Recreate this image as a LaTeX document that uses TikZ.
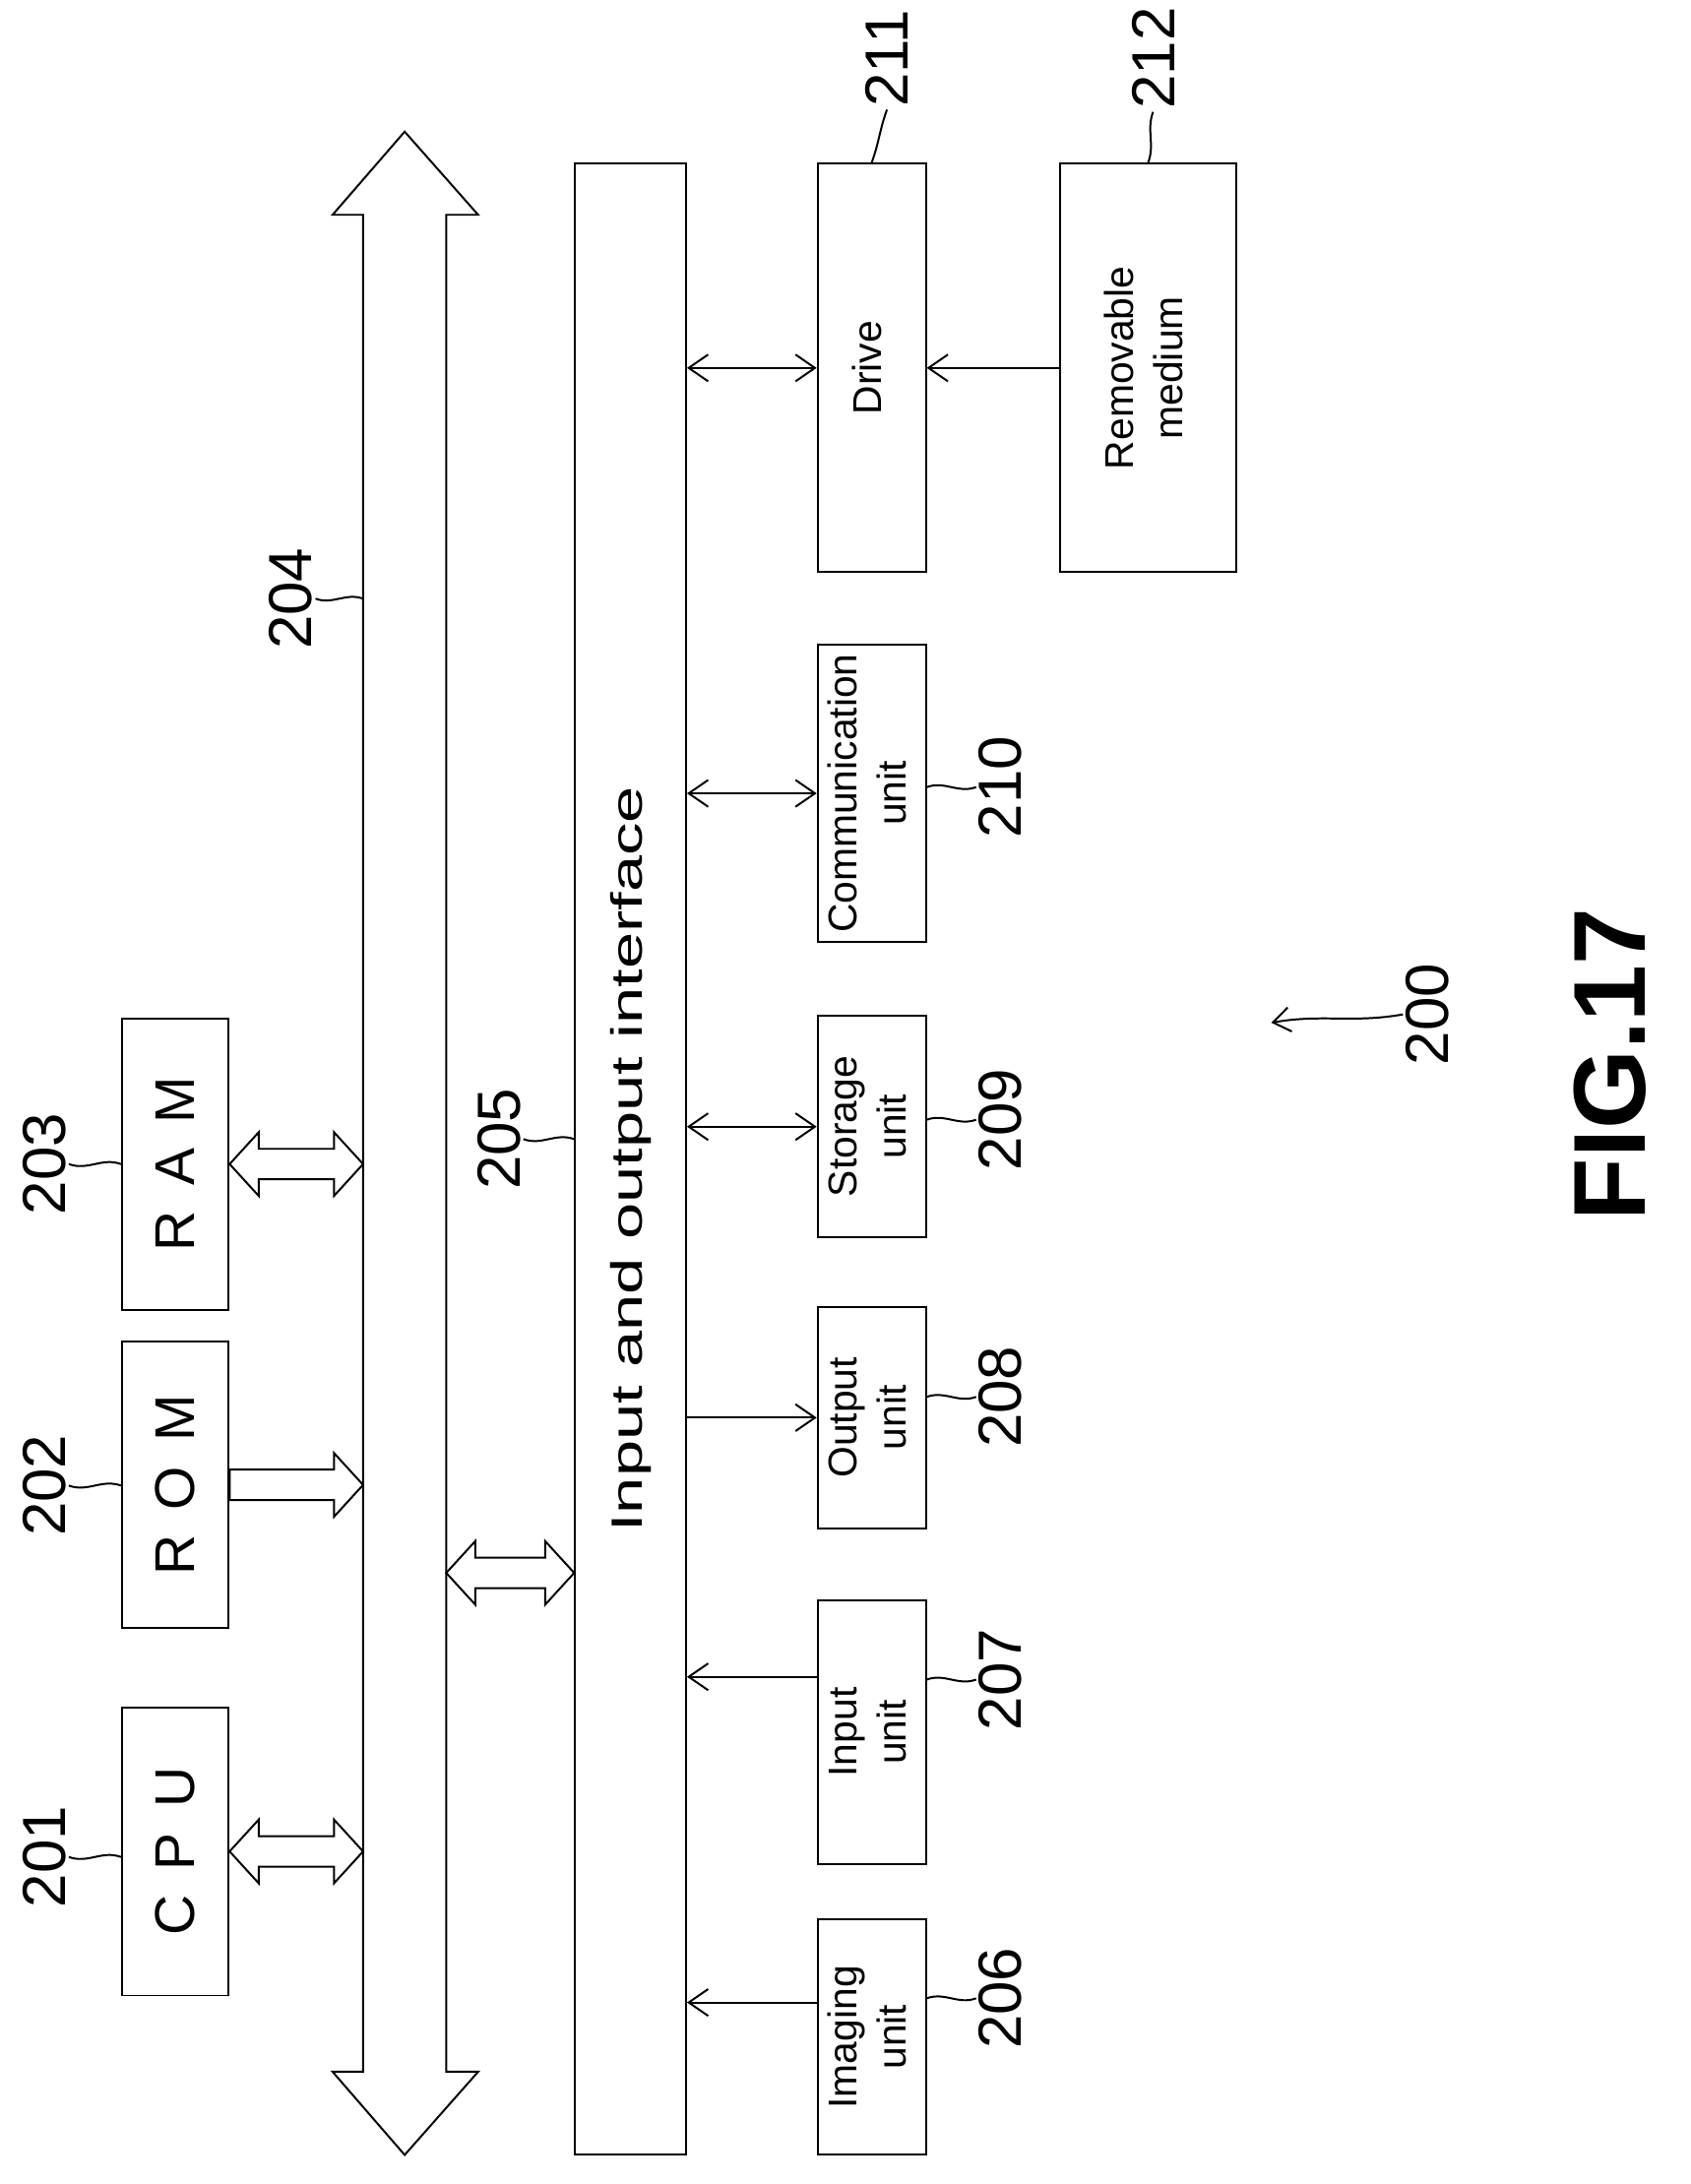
\documentclass[tikz,border=0pt]{standalone}
\usepackage{fontspec}
\setmainfont{Liberation Sans}
\usetikzlibrary{arrows.meta,calc}

\tikzset{
  box/.style={draw, thick, inner sep=0pt, font=\fontsize{16.5}{20}\selectfont},
  lbl/.style={font=\fontsize{25}{30}\selectfont, inner sep=1pt},
  flow/.style={thick, -{Straight Barb[length=8pt,width=11pt]}},
  both/.style={thick, {Straight Barb[length=8pt,width=11pt]}-{Straight Barb[length=8pt,width=11pt]}},
  hollow/.style={thick, line join=miter},
  leader/.style={thick}
}
\newcommand\vt[1]{\rotatebox{90}{\begin{tabular}{@{}c@{}}#1\end{tabular}}}
% hollow arrows between two points at the height of the first one
\newcommand\dblarrow[2]{\draw[hollow] let \p1=(#1), \p2=(#2) in
  (\x1,\y1) -- (\x1+0.42cm,\y1+0.46cm) -- (\x1+0.42cm,\y1+0.22cm) -- (\x2-0.42cm,\y1+0.22cm)
  -- (\x2-0.42cm,\y1+0.46cm) -- (\x2,\y1) -- (\x2-0.42cm,\y1-0.46cm) -- (\x2-0.42cm,\y1-0.22cm)
  -- (\x1+0.42cm,\y1-0.22cm) -- (\x1+0.42cm,\y1-0.46cm) -- cycle;}
\newcommand\onearrow[2]{\draw[hollow] let \p1=(#1), \p2=(#2) in
  (\x1,\y1+0.22cm) -- (\x2-0.42cm,\y1+0.22cm) -- (\x2-0.42cm,\y1+0.46cm) -- (\x2,\y1)
  -- (\x2-0.42cm,\y1-0.46cm) -- (\x2-0.42cm,\y1-0.22cm) -- (\x1,\y1-0.22cm) -- cycle;}

\begin{document}
\begin{tikzpicture}[x=0.02cm, y=-0.02cm]
  \useasboundingbox (0,0) rectangle (1220,1576);

  % bus 204
  \draw[hollow] (292,95) -- (345,155) -- (322,155) -- (322,1495) -- (345,1495) -- (292,1555)
    -- (240,1495) -- (262,1495) -- (262,155) -- (240,155) -- cycle;
  \coordinate (busL) at (262,0);
  \coordinate (busR) at (322,1135);

  % CPU, ROM, RAM
  \node[box, minimum width=1.54cm, minimum height=4.16cm] (cpu) at (126.5,1336)
    {\rotatebox{90}{\fontsize{23}{26}\selectfont C\, P\, U}};
  \node[box, minimum width=1.54cm, minimum height=4.14cm] (rom) at (126.5,1071.5)
    {\rotatebox{90}{\fontsize{23}{26}\selectfont R\, O\, M}};
  \node[box, minimum width=1.54cm, minimum height=4.2cm] (ram) at (126.5,840)
    {\rotatebox{90}{\fontsize{23}{26}\selectfont R\, A\, M}};

  % interface 205
  \node[box, minimum width=1.6cm, minimum height=28.74cm] (io) at (455,836.5)
    {\rotatebox{90}{\scalebox{1.5}[1]{\fontsize{18}{21}\selectfont Input and output interface}}};

  % units
  \node[box, minimum width=1.56cm, minimum height=3.4cm] (img) at (629,1470) {\vt{Imaging\\unit}};
  \node[box, minimum width=1.56cm, minimum height=3.8cm] (inp) at (629,1250) {\vt{Input\\unit}};
  \node[box, minimum width=1.56cm, minimum height=3.2cm] (out) at (629,1023) {\vt{Output\\unit}};
  \node[box, minimum width=1.56cm, minimum height=3.2cm] (sto) at (629,813) {\vt{Storage\\unit}};
  \node[box, minimum width=1.56cm, minimum height=4.3cm] (com) at (629,572.5) {\vt{Communication\\unit}};
  \node[box, minimum width=1.56cm, minimum height=5.9cm] (drv) at (629,265.5) {\vt{Drive}};
  \node[box, minimum width=2.54cm, minimum height=5.9cm] (med) at (828.5,265.5) {\vt{Removable\\medium}};

  % hollow arrows
  \dblarrow{cpu.east}{cpu.east -| busL}
  \onearrow{rom.east}{rom.east -| busL}
  \dblarrow{ram.east}{ram.east -| busL}
  \dblarrow{busR}{busR -| io.west}

  % thin arrows
  \draw[flow] ([yshift=0.5cm]img.west) coordinate (a6) -- (a6 -| io.east);
  \draw[flow] ([yshift=0.8cm]inp.west) coordinate (a7) -- (a7 -| io.east);
  \draw[flow] (io.east |- out.west) -- (out.west);
  \draw[both] (io.east |- sto.west) -- (sto.west);
  \draw[both] (io.east |- com.west) -- (com.west);
  \draw[both] (io.east |- drv.west) -- (drv.west);
  \draw[flow] (med.west) -- (drv.east);

  % reference numerals
  \node[lbl, rotate=90] (n201) at (32,1340) {201};
  \node[lbl, rotate=90] (n202) at (32,1072) {202};
  \node[lbl, rotate=90] (n203) at (32,840) {203};
  \node[lbl, rotate=90] (n204) at (210,432) {204};
  \node[lbl, rotate=90] (n205) at (360,822) {205};
  \node[lbl, rotate=90] (n206) at (722,1442) {206};
  \node[lbl, rotate=90] (n207) at (722,1212) {207};
  \node[lbl, rotate=90] (n208) at (722,1008) {208};
  \node[lbl, rotate=90] (n209) at (722,808) {209};
  \node[lbl, rotate=90] (n210) at (722,568) {210};
  \node[lbl, rotate=90] (n211) at (640,42) {211};
  \node[lbl, rotate=90] (n212) at (832,42) {212};
  \node[lbl, rotate=90] (n200) at (1030,732) {200};
  \node[rotate=90, font=\fontsize{42}{48}\selectfont\bfseries] (fig) at (1162,768) {FIG.17};

  % leaders
  \draw[leader] (n201.south) to[out=-20,in=160] (cpu.west |- n201.south);
  \draw[leader] (n202.south) to[out=-20,in=160] (rom.west |- n202.south);
  \draw[leader] (n203.south) to[out=-20,in=160] (ram.west |- n203.south);
  \draw[leader] (n204.south) to[out=-20,in=160] (busL |- n204.south);
  \draw[leader] (n205.south) to[out=-20,in=160] (io.west |- n205.south);
  \draw[leader] (n206.north) to[out=200,in=20] (img.east |- n206.north);
  \draw[leader] (n207.north) to[out=200,in=20] (inp.east |- n207.north);
  \draw[leader] (n208.north) to[out=200,in=20] (out.east |- n208.north);
  \draw[leader] (n209.north) to[out=200,in=20] (sto.east |- n209.north);
  \draw[leader] (n210.north) to[out=200,in=20] (com.east |- n210.north);
  \draw[leader] (n211.west) to[out=-110,in=70] (drv.north);
  \draw[leader] (n212.west) to[out=-110,in=70] (med.north);
  \draw[leader, -{Straight Barb[length=7pt,width=10pt]}] (n200.north) to[out=190,in=10] ++(-95,6);
\end{tikzpicture}
\end{document}
